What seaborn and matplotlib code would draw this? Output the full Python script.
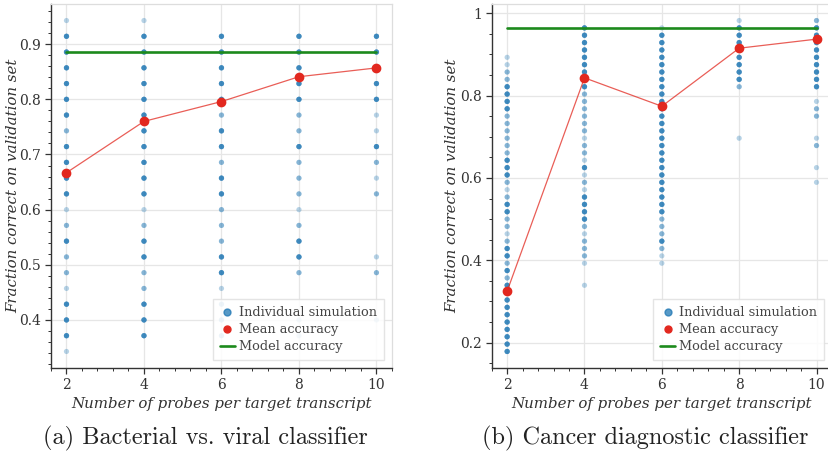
import numpy as np
import pandas as pd
import matplotlib
matplotlib.use("Agg")
import matplotlib.pyplot as plt
import seaborn as sns
from matplotlib.lines import Line2D
from matplotlib.ticker import AutoMinorLocator, MultipleLocator, FuncFormatter

# ---------------- data ----------------
probes = [2, 4, 6, 8, 10]

# Panel (a): accuracies are k/35; shade level L=1, M=2, D=5 overlapping runs
a_den = 35
a_x = ([2]*22 + [4]*21 + [6]*20 + [8]*18 + [10]*14)
a_k = ([33, 32, 31, 30, 29, 28, 27, 26, 25, 24, 23, 22, 21, 20, 19, 18, 17, 16, 15, 14, 13, 12] +
       [33, 32, 31, 30, 29, 28, 27, 26, 25, 24, 23, 22, 21, 20, 19, 18, 17, 16, 15, 14, 13] +
       [32, 31, 30, 29, 28, 27, 26, 25, 24, 23, 22, 21, 20, 19, 18, 17, 16, 15, 14, 13] +
       [32, 31, 30, 29, 28, 27, 26, 25, 24, 23, 22, 21, 20, 19, 18, 17, 14, 13] +
       [32, 31, 30, 29, 28, 27, 26, 25, 24, 23, 22, 18, 17, 14])
a_shade = ("LDDDDDDMDDDDLMDMMLDDDL" +
           "LDDDDDDDDDDDLMDDMMDDD" +
           "DDDDDMDDMDDMMMDDLMMM" +
           "DDDDDMMDMMMLMDDMLL" +
           "DDDDDLLDMLMLML")
a_mean = [0.667, 0.760, 0.796, 0.841, 0.857]
a_model = 31 / 35

# Panel (b): accuracies are k/56
b_den = 56
b_x = ([2]*41 + [4]*34 + [6]*33 + [8]*11 + [10]*17)
b_k = (list(range(50, 9, -1)) +
       list(range(54, 21, -1)) + [19] +
       list(range(54, 21, -1)) +
       [55, 54, 53, 52, 51, 50, 49, 48, 47, 46, 39] +
       [55, 54, 53, 52, 51, 50, 49, 48, 47, 46, 44, 43, 42, 39, 38, 35, 33])
b_shade = ("LLMMDDDDMMMMMMDDDMLMDDMMLMDDMDMDDDDDDDDDD" +
           "DDDDDDDDDMMMMMMLMMLDLMLDDDDMLMMMLLL" +
           "DDDDDDDDDDDDDDDDDDDDDDDDDMMMDMLL" +
           "LDDDDDDDDML" +
           "MDDDDDDDDDLMMLMLL")
b_mean = [0.325, 0.843, 0.774, 0.915, 0.937]
b_model = 54 / 56

shade_count = {"L": 1, "M": 2, "D": 5}

def expand(xs, ks, shades, den):
    reps = [shade_count[s] for s in shades]
    return pd.DataFrame({
        "probes": np.repeat(xs, reps),
        "acc": np.repeat(np.array(ks) / den, reps),
    })

# ---------------- style ----------------
sns.set_style("ticks")
plt.rcParams["font.family"] = ["DejaVu Serif"]
BLUE = "#1f77b4"
RED = "#e2281f"
GREEN = "#1c8a1c"
TXT = "#333333"

fig = plt.figure(figsize=(8.29, 4.54), dpi=100)
ax_a = fig.add_axes([0.0615, 0.1894, 0.4113, 0.8018])
ax_b = fig.add_axes([0.5931, 0.1894, 0.4105, 0.8018])

def draw(ax, df, mean, model, ystep, yminor, ylab_x):
    sns.scatterplot(data=df, x="probes", y="acc", ax=ax, color=BLUE,
                    alpha=0.32, s=14, linewidth=0, edgecolor="none",
                    legend=False, zorder=2)
    ax.plot([probes[0], probes[-1]], [model, model], color=GREEN, lw=1.9, zorder=3)
    sns.lineplot(x=probes, y=mean, ax=ax, color=RED, lw=0.9, alpha=0.75,
                 zorder=4, legend=False)
    ax.plot(probes, mean, "o", color=RED, ms=6, zorder=5)
    ax.set_xticks(probes)
    ax.xaxis.set_minor_locator(AutoMinorLocator(5))
    ax.yaxis.set_major_locator(MultipleLocator(ystep))
    ax.yaxis.set_minor_locator(AutoMinorLocator(yminor))
    ax.yaxis.set_major_formatter(FuncFormatter(lambda v, p: f"{round(v, 6):g}"))
    ax.grid(True, which="major", color="#e6e6e6", lw=0.9, zorder=0)
    ax.set_axisbelow(True)
    for side in ("top", "right"):
        ax.spines[side].set_color("#dddddd")
        ax.spines[side].set_linewidth(0.9)
    for side in ("left", "bottom"):
        ax.spines[side].set_color("#333333")
        ax.spines[side].set_linewidth(1.0)
    ax.tick_params(which="major", direction="out", length=4, width=0.9,
                   colors="#333333", labelsize=10, labelcolor=TXT, pad=3)
    ax.tick_params(which="minor", direction="out", length=2.3, width=0.7,
                   colors="#333333")
    ax.set_xlabel("Number of probes per target transcript", fontsize=10.8,
                  style="italic", color=TXT, labelpad=4)
    ax.set_ylabel("Fraction correct on validation set", fontsize=10.8,
                  style="italic", color=TXT)
    ax.yaxis.set_label_coords(ylab_x, 0.5)
    handles = [
        Line2D([], [], marker="o", ls="none", color=BLUE, alpha=0.75, ms=5),
        Line2D([], [], marker="o", ls="none", color=RED, ms=5),
        Line2D([], [], color=GREEN, lw=1.9),
    ]
    leg = ax.legend(handles, ["Individual simulation", "Mean accuracy", "Model accuracy"],
                    loc="lower right", fontsize=9.3, frameon=True, framealpha=0.85,
                    edgecolor="#e0e0e0", fancybox=False, handlelength=1.2,
                    handletextpad=0.3, borderpad=0.55, labelspacing=0.3,
                    borderaxespad=0.6)
    for t in leg.get_texts():
        t.set_color("#444444")

draw(ax_a, expand(a_x, a_k, a_shade, a_den), a_mean, a_model, 0.1, 5, -0.091)
draw(ax_b, expand(b_x, b_k, b_shade, b_den), b_mean, b_model, 0.2, 4, -0.096)

fig.text(205 / 829, 1 - 438 / 454, "(a) Bacterial vs. viral classifier",
         family="cmr10", fontsize=17.5, ha="center", va="center", color="#222222")
fig.text(645 / 829, 1 - 438 / 454, "(b) Cancer diagnostic classifier",
         family="cmr10", fontsize=17.5, ha="center", va="center", color="#222222")

fig.savefig("out.png", dpi=100)
